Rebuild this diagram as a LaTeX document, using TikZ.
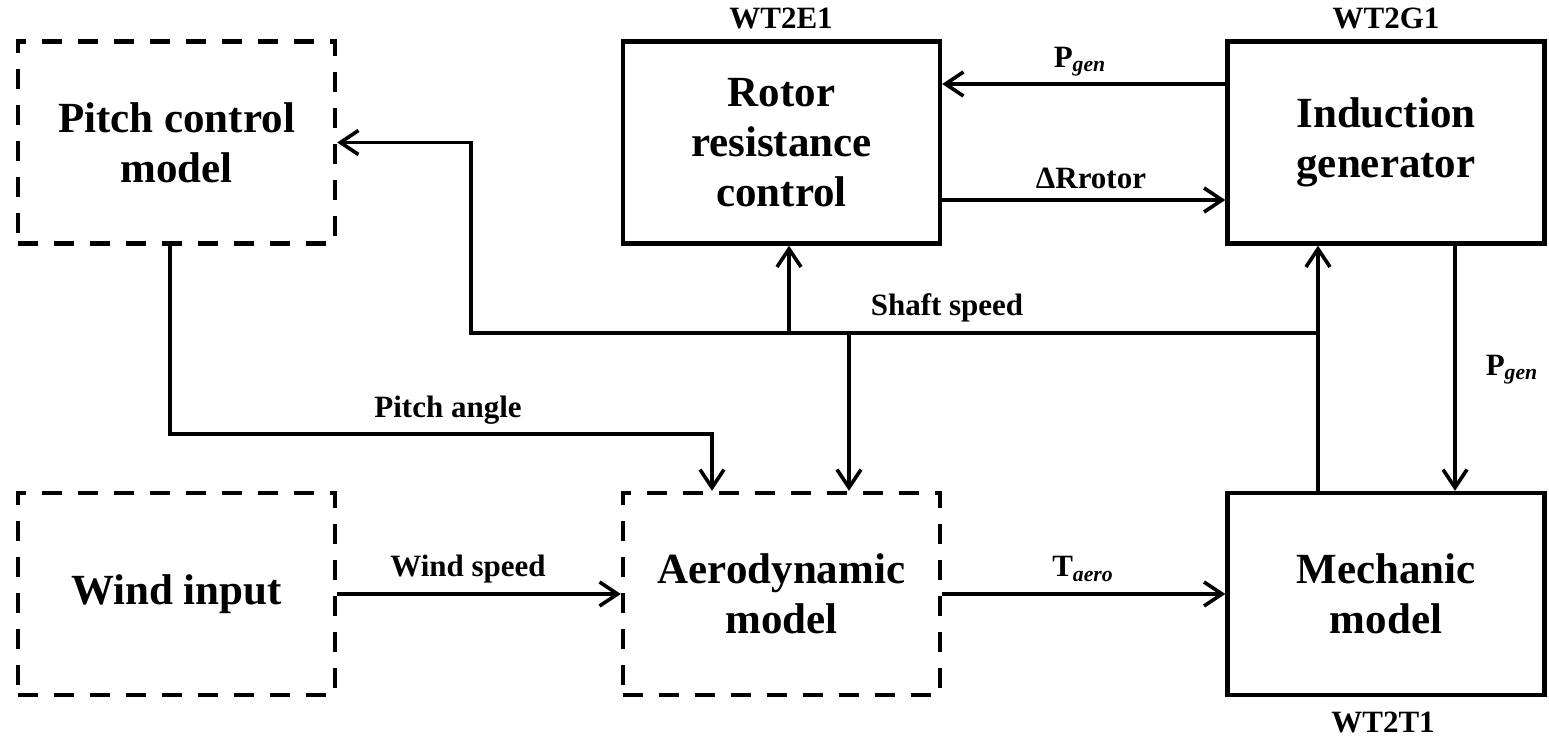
\documentclass[tikz,border=0pt]{standalone}
\usepackage{fontspec}
\setmainfont{Liberation Serif}
\usetikzlibrary{arrows.meta}
\begin{document}
\begin{tikzpicture}[x=0.5pt,y=-0.5pt,
  solidbox/.style={draw, line width=2.2pt, rectangle, minimum width=158.5pt, minimum height=101pt, inner sep=0pt, align=center, font=\fontsize{21.5}{25}\selectfont\bfseries},
  dashbox/.style={solidbox, dash pattern=on 10pt off 8pt},
  lbl/.style={inner sep=0pt, font=\fontsize{15.5}{18}\selectfont\bfseries},
  arr/.style={line width=1.8pt, -{Straight Barb[length=9pt,width=12pt,line width=1.8pt]}},
  wire/.style={line width=1.8pt}]
\useasboundingbox (0,0) rectangle (1549,737);

\node[dashbox] (pitch) at (176.5,142.5) {Pitch control\\model};
\node[solidbox] (rotor) at (781.5,142.5) {Rotor\\resistance\\control};
\node[solidbox] (induction) at (1386,142.5) {Induction\\generator};
\node[dashbox] (wind) at (176.5,594) {Wind input};
\node[dashbox] (aero) at (781.5,594) {Aerodynamic\\model};
\node[solidbox] (mech) at (1386,594) {Mechanic\\model};

\node[lbl] (tagE) at (781,18) {WT2E1};
\node[lbl] (tagG) at (1386,18) {WT2G1};
\node[lbl] (tagT) at (1383,722) {WT2T1};

% helper points
\coordinate (pg) at (0,84);
\coordinate (dr) at (0,200);
\coordinate (sL) at (471,333);
\coordinate (sR) at (1318,333);
\coordinate (s1) at (789,333);
\coordinate (s2) at (849,333);
\coordinate (pa1) at (170,434);
\coordinate (pa2) at (712,434);
\coordinate (pd) at (1455,0);

\draw[arr] (induction.west |- pg) -- (rotor.east |- pg);
\draw[arr] (rotor.east |- dr) -- (induction.west |- dr);
\draw[arr] (mech.north -| sR) -- (induction.south -| sR);
\draw[arr] (sR) -- (sL) |- (pitch.east);
\draw[arr] (s1) -- (rotor.south -| s1);
\draw[arr] (s2) -- (aero.north -| s2);
\draw[arr] (pitch.south -| pa1) -- (pa1) -- (pa2) -- (aero.north -| pa2);
\draw[arr] (wind.east) -- (aero.west);
\draw[arr] (aero.east) -- (mech.west);
\draw[arr] (induction.south -| pd) -- (mech.north -| pd);

\node[lbl] (lpg) at (1080,62) {P\textsubscript{\textit{gen}}};
\node[lbl] (ldr) at (1091,178) {ΔRrotor};
\node[lbl] (lss) at (947,308) {Shaft speed};
\node[lbl] (lpa) at (448,410) {Pitch angle};
\node[lbl] (lws) at (468,569) {Wind speed};
\node[lbl] (lta) at (1083,569) {T\textsubscript{\textit{aero}}};
\node[lbl] (lpd) at (1512,370) {P\textsubscript{\textit{gen}}};
\end{tikzpicture}
\end{document}
